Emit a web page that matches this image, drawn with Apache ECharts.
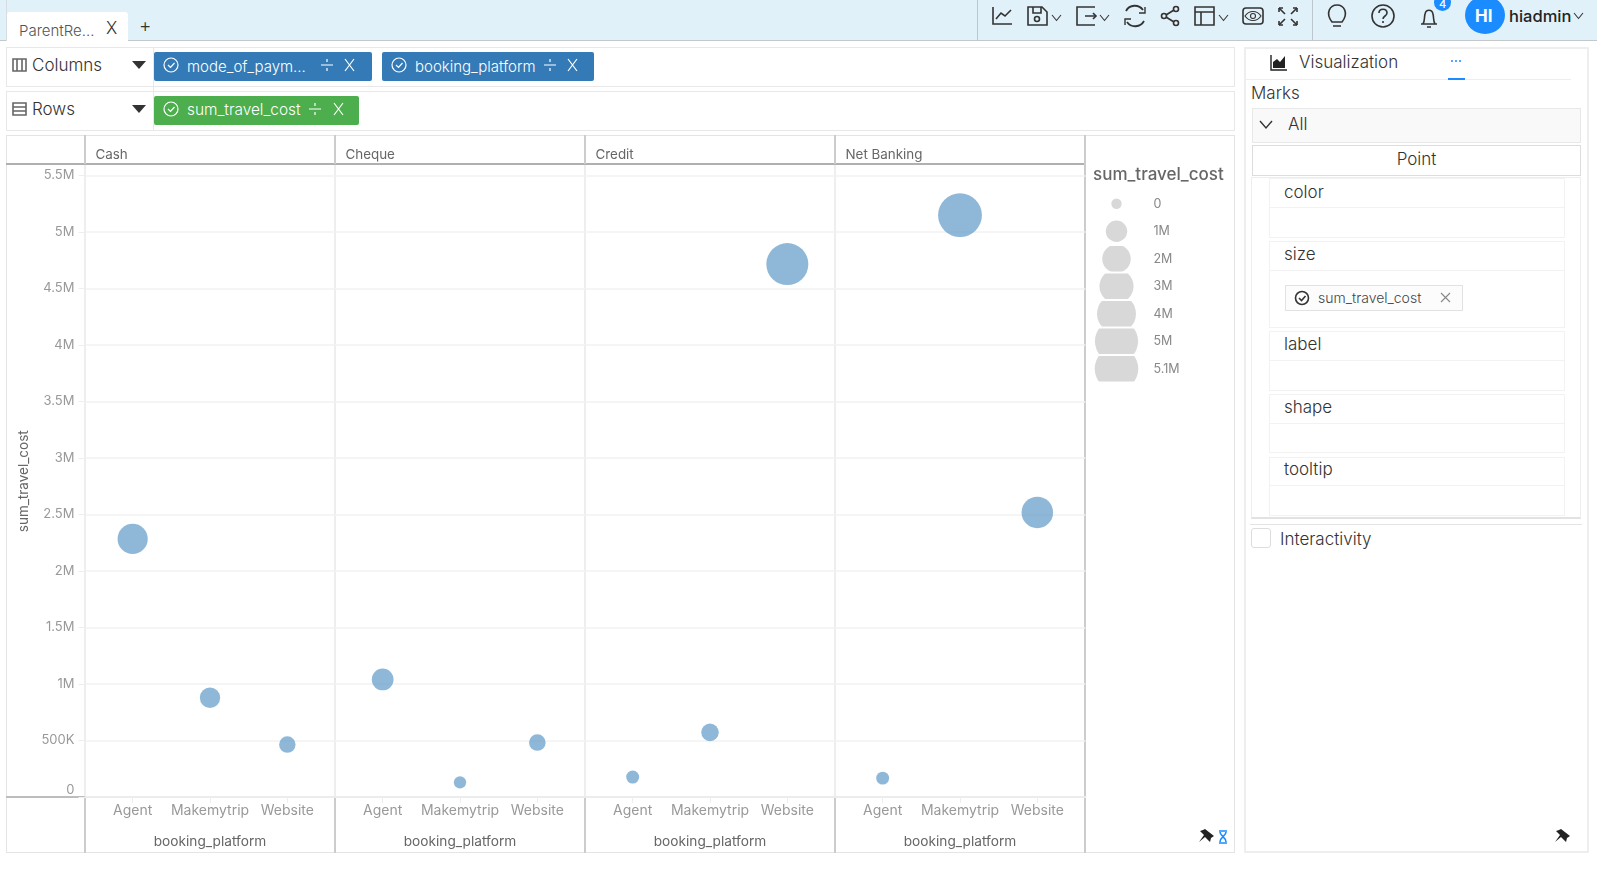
<!DOCTYPE html>
<html>
<head>
<meta charset="utf-8">
<script src="https://cdn.jsdelivr.net/npm/echarts@6/dist/echarts.min.js"></script>
<style>
html,body{margin:0;padding:0;background:#fff;overflow:hidden}
body{width:1597px;height:877px;position:relative;font-family:Inter,Lato,sans-serif;font-weight:300;color:#333}
.a{position:absolute;box-sizing:border-box}
.t{position:absolute;white-space:nowrap;line-height:1;transform:translateY(-50%)}
.box{position:absolute;box-sizing:border-box;border:1px solid #e8e8e8;background:#fff}
.chip{position:absolute;box-sizing:border-box;border-radius:2px;color:#fff;font-size:15px}
svg{position:absolute;overflow:visible;fill:none;stroke:#333;stroke-width:1.6}
#main{position:absolute;left:0;top:0;width:1597px;height:877px}
</style>
</head>
<body>
<!-- top bar -->
<div class="a" style="left:0;top:0;width:1597px;height:41px;background:#e1f1fa;border-bottom:1px solid #c4c8ca"></div>
<div class="a" style="left:6px;top:0;width:1px;height:41px;background:#d5dde1"></div>
<div class="a" style="left:7px;top:12px;width:121px;height:29px;background:#fff;border-radius:3px 3px 0 0"></div>
<div class="t" style="left:19px;top:30px;font-size:15px;color:#555">ParentRe...</div>
<div class="t" style="left:106px;top:28px;font-size:17px;color:#333">X</div>
<div class="t" style="left:139px;top:25px;font-size:19px;color:#333">+</div>
<div class="a" style="left:977px;top:0;width:1px;height:41px;background:#bcc7cd"></div>
<div class="a" style="left:1312px;top:0;width:1px;height:41px;background:#bcc7cd"></div>
<svg style="left:0;top:0" width="1597" height="41">
  <path d="M993 7v17h19M996 19l5-6 4 3 6-6"/>
  <path d="M1028 7h14l5 5v13h-19zM1033 7v6h8V7"/><circle cx="1037" cy="19" r="2.5"/><path d="M1052 15l4.5 5.5 4.5-5.5" stroke-width="1.1"/>
  <path d="M1095 7h-18v18h18M1085 16h11" /><path d="M1093 13l3 3-3 3" /><path d="M1100 15l4.5 5.5 4.5-5.5" stroke-width="1.1"/>
  <path d="M1126 11a10 10 0 0 1 17-1M1144 21a10 10 0 0 1-17 1" stroke-width="1.8"/><path d="M1145 7v6h-6M1125 25v-6h6" stroke-width="1.4"/>
  <circle cx="1176" cy="9" r="2.5"/><circle cx="1164" cy="16" r="2.5"/><circle cx="1176" cy="23" r="2.5"/><path d="M1166 15l8-5M1166 17l8 5"/>
  <path d="M1195 7h19v18h-19zM1195 12h19M1201 12v13"/><path d="M1219 15l4.5 5.5 4.5-5.5" stroke-width="1.1"/>
  <rect x="1243" y="8" width="20" height="16" rx="3"/><path d="M1245 16c4-6 12-6 16 0-4 6-12 6-16 0z" stroke-width="1.1"/><circle cx="1253" cy="16" r="2.5" stroke-width="1.1"/>
  <path d="M1279 8l6 6M1297 8l-6 6M1279 25l6-6M1297 25l-6-6" stroke-width="1.6"/><path d="M1279 8h4M1279 8v4M1297 8h-4M1297 8v4M1279 25h4M1279 25v-4M1297 25h-4M1297 25v-4" stroke-width="1.6"/>
  <path d="M1332 22c-7-9 -2-17 5-17s12 8 5 17zM1333 26h8"/>
  <circle cx="1383" cy="16" r="11"/><path d="M1379 13c0-5 8-5 8 0 0 3-4 3-4 6M1383 21v2"/>
  <path d="M1423 24c2-3 1-6 2-10 1-5 7-5 8 0 1 4 0 7 2 10zM1421 24h16M1427 27h4"/>
  <path d="M1574 13l4.5 5.5 4.5-5.5" stroke-width="1.1"/>
</svg>
<div class="a" style="left:1434px;top:-6px;width:17px;height:17px;border-radius:50%;background:#1a8cff"></div>
<div class="t" style="left:1439px;top:4px;color:#fff;font-size:11px;font-weight:500">4</div>
<div class="a" style="left:1465px;top:-4px;width:40px;height:38px;border-radius:50%;background:#1a8cff"></div>
<div class="t" style="left:1475px;top:16px;color:#fff;font-size:17px;font-weight:700">HI</div>
<div class="t" style="left:1509px;top:16px;color:#222;font-size:16.5px;font-weight:500">hiadmin</div>

<!-- shelves -->
<div class="box" style="left:6px;top:47px;width:1229px;height:40px"></div>
<div class="box" style="left:6px;top:91px;width:1229px;height:40px"></div>
<div class="a" style="left:153px;top:47px;width:1px;height:84px;background:#e8e8e8"></div>
<svg style="left:0;top:0" width="160" height="130" stroke-width="1.2">
  <path d="M13 59h13v12h-13zM17 59v12M22 59v12" stroke="#666"/>
  <path d="M13 103h13v12h-13zM13 107h13M13 111h13" stroke="#666"/>
  <path d="M132 61h14l-7 8z" fill="#333" stroke="none"/>
  <path d="M132 105h14l-7 8z" fill="#333" stroke="none"/>
</svg>
<div class="t" style="left:32px;top:65px;font-size:17px">Columns</div>
<div class="t" style="left:32px;top:109px;font-size:17px">Rows</div>
<div class="chip" style="left:154px;top:52px;width:218px;height:29px;background:#337ab7"></div>
<div class="t" style="left:187px;top:66px;color:#fff;font-size:15px">mode_of_paym...</div>
<div class="chip" style="left:382px;top:52px;width:212px;height:29px;background:#337ab7"></div>
<div class="t" style="left:415px;top:66px;color:#fff;font-size:15px">booking_platform</div>
<div class="chip" style="left:154px;top:96px;width:205px;height:29px;background:#4cae4c"></div>
<div class="t" style="left:187px;top:110px;color:#fff;font-size:15.4px">sum_travel_cost</div>
<svg style="left:0;top:0;stroke:#fff;stroke-width:1.2" width="600" height="130">
  <circle cx="171" cy="65" r="7"/><path d="M168 65l2.5 2.5 4-4.5"/>
  <circle cx="399" cy="65" r="7"/><path d="M396 65l2.5 2.5 4-4.5"/>
  <circle cx="171" cy="109" r="7"/><path d="M168 109l2.5 2.5 4-4.5"/>
  <path d="M321 65h12M327 59v3M327 68v3M345 59l9 12M354 59l-9 12"/>
  <path d="M544 65h12M550 59v3M550 68v3M568 59l9 12M577 59l-9 12"/>
  <path d="M309 109h12M315 103v3M315 112v3M334 103l9 12M343 103l-9 12"/>
</svg>

<!-- chart frame -->
<div class="box" style="left:6px;top:135px;width:1229px;height:718px;border-color:#e4e4e4"></div>
<div class="a" style="left:6px;top:163px;width:1080px;height:2px;background:#b0b0b0"></div>
<div class="a" style="left:6px;top:796px;width:80px;height:2px;background:#bdbdbd"></div>
<div class="a" style="left:84px;top:135px;width:2px;height:29px;background:#ccc"></div>
<div class="a" style="left:84px;top:165px;width:2px;height:631px;background:#eee"></div>
<div class="a" style="left:84px;top:797px;width:2px;height:56px;background:#ccc"></div>
<div class="a" style="left:334px;top:135px;width:2px;height:29px;background:#ccc"></div>
<div class="a" style="left:334px;top:165px;width:2px;height:631px;background:#eee"></div>
<div class="a" style="left:334px;top:797px;width:2px;height:56px;background:#ccc"></div>
<div class="a" style="left:584px;top:135px;width:2px;height:29px;background:#ccc"></div>
<div class="a" style="left:584px;top:165px;width:2px;height:631px;background:#eee"></div>
<div class="a" style="left:584px;top:797px;width:2px;height:56px;background:#ccc"></div>
<div class="a" style="left:834px;top:135px;width:2px;height:29px;background:#ccc"></div>
<div class="a" style="left:834px;top:165px;width:2px;height:631px;background:#eee"></div>
<div class="a" style="left:834px;top:797px;width:2px;height:56px;background:#ccc"></div>
<div class="a" style="left:1084px;top:135px;width:2px;height:718px;background:#ccc"></div>

<!-- right panel -->
<div class="box" style="left:1244px;top:47px;width:345px;height:806px;border:2px solid #eee"></div>
<div class="a" style="left:1246px;top:79px;width:325px;height:1px;background:#eee"></div>
<div class="a" style="left:1448px;top:78px;width:17px;height:2px;background:#1a8cff"></div>
<div class="t" style="left:1299px;top:62px;font-size:17px">Visualization</div>
<div class="t" style="left:1251px;top:93px;font-size:17px">Marks</div>
<div class="box" style="left:1252px;top:108px;width:329px;height:35px;background:#f9f9f9"></div>
<div class="t" style="left:1288px;top:124px;font-size:17px">All</div>
<div class="box" style="left:1252px;top:145px;width:329px;height:31px;border-color:#ddd;text-align:center;font-size:17px;line-height:26px">Point</div>
<div class="box" style="left:1251px;top:177px;width:330px;height:342px;border-color:#eee;border-bottom:2px solid #e2e2e2"></div>
<div class="box" style="left:1269px;top:178px;width:296px;height:60px;border-color:#f2f2f2"></div>
<div class="a" style="left:1269px;top:207px;width:296px;height:1px;background:#f2f2f2"></div>
<div class="box" style="left:1269px;top:241px;width:296px;height:87px;border-color:#f2f2f2"></div>
<div class="a" style="left:1269px;top:270px;width:296px;height:1px;background:#f2f2f2"></div>
<div class="box" style="left:1269px;top:331px;width:296px;height:60px;border-color:#f2f2f2"></div>
<div class="a" style="left:1269px;top:360px;width:296px;height:1px;background:#f2f2f2"></div>
<div class="box" style="left:1269px;top:394px;width:296px;height:59px;border-color:#f2f2f2"></div>
<div class="a" style="left:1269px;top:423px;width:296px;height:1px;background:#f2f2f2"></div>
<div class="box" style="left:1269px;top:457px;width:296px;height:59px;border-color:#f2f2f2"></div>
<div class="a" style="left:1269px;top:485px;width:296px;height:1px;background:#f2f2f2"></div>
<div class="t" style="left:1284px;top:192px;font-size:17px">color</div>
<div class="t" style="left:1284px;top:254px;font-size:17px">size</div>
<div class="t" style="left:1284px;top:344px;font-size:17px">label</div>
<div class="t" style="left:1284px;top:407px;font-size:17px">shape</div>
<div class="t" style="left:1284px;top:469px;font-size:17px">tooltip</div>
<div class="box" style="left:1285px;top:285px;width:178px;height:26px;border-color:#e2e2e2;background:#fcfcfc"></div>
<div class="t" style="left:1318px;top:298px;font-size:14px;color:#444">sum_travel_cost</div>
<div class="a" style="left:1250px;top:524px;width:332px;height:1px;background:#e4e4e4"></div>
<div class="box" style="left:1251px;top:528px;width:20px;height:20px;border:1px solid #ddd;border-radius:3px"></div>
<div class="t" style="left:1280px;top:539px;font-size:17px">Interactivity</div>
<svg style="left:0;top:0" width="1597" height="877" stroke-width="1.2">
  <path d="M1271 55v15h16" stroke="#222" stroke-width="1.4"/>
  <path d="M1273 68v-6l4-3 3 3 5-6v12z" fill="#222" stroke="none"/>
  <circle cx="1452" cy="61" r="1" fill="#1a8cff" stroke="none"/><circle cx="1456" cy="61" r="1" fill="#1a8cff" stroke="none"/><circle cx="1460" cy="61" r="1" fill="#1a8cff" stroke="none"/>
  <path d="M1260 121l6 7 6-7" stroke="#333" stroke-width="1.4"/>
  <circle cx="1302" cy="298" r="6.5" stroke="#333"/><path d="M1299 298l2.5 2.5 4-4.5" stroke="#333"/>
  <path d="M1441 293l9 9M1450 293l-9 9" stroke="#888" stroke-width="1.1"/>
  <path d="M1205 829l9 7-3 2-1 4-5-5-6 5 5-7-4-4 3-1z" fill="#222" stroke="none"/>
  <path d="M1219 831h8M1219 843h8M1220 832c0 4 6 5 6 10M1226 832c0 4-6 5-6 10" stroke="#1a8cff"/>
  <path d="M1561 829l9 7-3 2-1 4-5-5-6 5 5-7-4-4 3-1z" fill="#222" stroke="none"/>
</svg>

<div id="main"></div>
<script>
const facets = ['Cash', 'Cheque', 'Credit', 'Net Banking'];
const platforms = ['Agent', 'Makemytrip', 'Website'];
const cashCost = [2284000, 878000, 464000];
const chequeCost = [1040000, 130000, 482000];
const creditCost = [176000, 572000, 4716000];
const netBankingCost = [167000, 5149000, 2518000];
const facetCosts = [cashCost, chequeCost, creditCost, netBankingCost];
const legendValues = [0, 1000000, 2000000, 3000000, 4000000, 5000000, 5100000];
const legendLabels = ['0', '1M', '2M', '3M', '4M', '5M', '5.1M'];

const chartFont = 'Inter';
const panelLeft = [85.5, 335.5, 585.5, 835.5];
const plotTop = 175.5, plotHeight = 621.5;

// bubble area grows with the value
function bubbleSize(v) {
  return Math.sqrt(107 + 352 * v / 1000000);
}
function formatCost(v) {
  if (v === 0) return '0';
  if (v < 1000000) return v / 1000 + 'K';
  return v / 1000000 + 'M';
}

var myChart = echarts.init(document.getElementById('main'), null, { renderer: 'canvas' });

var grids = [{ left: 85.5, top: plotTop, width: 1000, height: plotHeight }];
var xAxes = [{
  gridIndex: 0, type: 'value', min: 0, max: 1, splitLine: { show: false },
  axisTick: { show: false }, axisLabel: { show: false },
  axisLine: { show: true, onZero: false, lineStyle: { color: '#ececec', width: 2 } }
}];
var yAxes = [{
  gridIndex: 0, type: 'value', min: 0, max: 5500000, interval: 500000,
  name: 'sum_travel_cost', nameLocation: 'middle', nameGap: 53,
  nameTextStyle: { color: '#666', fontSize: 13.5, fontFamily: chartFont, padding: [0, 0, 0, 10] },
  axisLine: { show: false },
  axisTick: { show: true, length: 7, lineStyle: { color: '#eee' } },
  axisLabel: { color: '#999', fontSize: 13, fontFamily: chartFont, margin: 11, formatter: formatCost, verticalAlignMinLabel: 'bottom' },
  splitLine: { show: true, lineStyle: { color: '#f2f2f2', width: 1.5 } }
}];
var series = [];

facets.forEach(function (name, i) {
  var idx = i + 1;
  grids.push({ left: panelLeft[i] + 8.5, top: plotTop, width: 232, height: plotHeight });
  xAxes.push({
    gridIndex: idx, type: 'category', data: platforms,
    name: 'booking_platform', nameLocation: 'middle', nameGap: 38,
    nameTextStyle: { color: '#666', fontSize: 13.7, fontFamily: chartFont },
    axisLine: { show: false },
    axisTick: { show: true, alignWithLabel: true, length: 6, lineStyle: { color: '#eee' } },
    axisLabel: { color: '#999', fontSize: 14, fontFamily: chartFont, margin: 7, interval: 0 }
  });
  yAxes.push({
    gridIndex: idx, type: 'value', min: 0, max: 5500000, interval: 500000,
    axisLine: { show: false }, axisTick: { show: false }, axisLabel: { show: false }, splitLine: { show: false }
  });
  series.push({
    name: name, type: 'scatter', xAxisIndex: idx, yAxisIndex: idx, clip: false,
    data: platforms.map(function (p, k) { return [p, facetCosts[i][k]]; }),
    symbolSize: function (d) { return bubbleSize(d[1]); },
    itemStyle: { color: '#5f9ac7', opacity: 0.7 }
  });
});

// size legend, one clipped circle per row
var legendIdx = grids.length;
grids.push({ left: 1097.5, top: 190, width: 38, height: 192.5 });
xAxes.push({ gridIndex: legendIdx, type: 'value', min: -1, max: 1, show: false });
yAxes.push({
  gridIndex: legendIdx, type: 'category', inverse: true, position: 'right', data: legendLabels,
  axisLine: { show: false }, axisTick: { show: false },
  axisLabel: { color: '#888', fontSize: 12.5, fontFamily: chartFont, margin: 18, interval: 0 }
});
series.push({
  name: 'sum_travel_cost', type: 'custom', xAxisIndex: legendIdx, yAxisIndex: legendIdx, clip: false,
  data: legendValues.map(function (v, i) { return [0, legendLabels[i], v]; }),
  renderItem: function (params, api) {
    var c = api.coord([api.value(0), api.value(1)]);
    var band = api.size([0, 1])[1];
    return {
      type: 'circle',
      shape: { cx: c[0], cy: c[1], r: bubbleSize(api.value(2)) / 2 },
      style: { fill: '#d8d8d8' },
      clipPath: { type: 'rect', shape: { x: c[0] - 30, y: c[1] - band / 2 + 1, width: 60, height: band - 2 } }
    };
  }
});

var titles = facets.map(function (name, i) {
  return {
    text: name, left: panelLeft[i] + 10, top: 148,
    textStyle: { color: '#666', fontSize: 13.4, fontWeight: 'normal', fontFamily: chartFont },
    padding: 0
  };
});
titles.push({
  text: 'sum_travel_cost', left: 1093, top: 166,
  textStyle: { color: '#666', fontSize: 17, fontWeight: 500, fontFamily: chartFont },
  padding: 0
});

myChart.setOption({
  animation: false,
  backgroundColor: 'transparent',
  title: titles,
  grid: grids,
  xAxis: xAxes,
  yAxis: yAxes,
  series: series
});
</script>
</body>
</html>
